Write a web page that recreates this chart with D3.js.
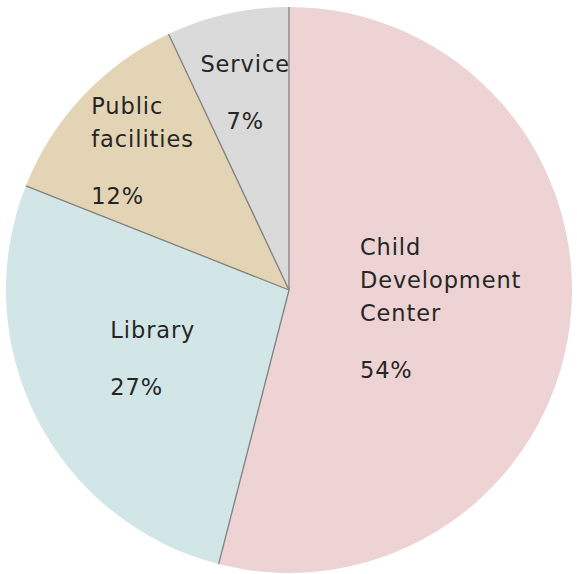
<!DOCTYPE html>
<html>
<head>
<meta charset="utf-8">
<script src="https://cdn.jsdelivr.net/npm/d3@7"></script>
<style>
  body { margin: 0; background: #fff; }
  text { font-family: "DejaVu Sans", sans-serif; fill: #262626; letter-spacing: 0.9px; }
</style>
</head>
<body>
<div id="chart"></div>
<script>
// slices, clockwise from 12 o'clock
const categories = ["Child Development Center", "Library", "Public facilities", "Service"];
const labelLines = [["Child", "Development", "Center"], ["Library"], ["Public", "facilities"], ["Service"]];
const values = [54, 27, 12, 7];
const colors = ["#edd3d3", "#d3e6e7", "#e4d4b6", "#dadada"];

const width = 577, height = 574;
const cx = 289, cy = 290, R = 283;
const fontSize = 22.5, lineH = 33, pctGap = 57;

const svg = d3.select("#chart").append("svg")
    .attr("width", width)
    .attr("height", height);

const g = svg.append("g").attr("transform", `translate(${cx},${cy})`);

const pie = d3.pie().sort(null).value(d => d)(values);
const total = d3.sum(values);

const arc = d3.arc().innerRadius(0).outerRadius(R);

g.selectAll("path.slice")
    .data(pie)
    .join("path")
    .attr("class", "slice")
    .attr("d", arc)
    .attr("fill", (d, i) => colors[i]);

// separator lines only (no outer border)
g.selectAll("line.sep")
    .data(pie)
    .join("line")
    .attr("class", "sep")
    .attr("x1", 0).attr("y1", 0)
    .attr("x2", d => R * Math.sin(d.startAngle))
    .attr("y2", d => -R * Math.cos(d.startAngle))
    .attr("stroke", "#808080")
    .attr("stroke-width", 1.3);

// labels: small slices pushed outward
pie.forEach((d, i) => {
    const frac = d.value / total;
    const r = R * (frac > 0.2 ? 0.54 : 0.71);
    const a = (d.startAngle + d.endAngle) / 2;
    const lx = r * Math.sin(a), ly = -r * Math.cos(a);
    const lines = labelLines[i];
    const span = (lines.length - 1) * lineH + pctGap;
    const firstY = ly - (span + 20) / 2 + 17;

    const t = g.append("g");
    lines.forEach((s, k) => {
        t.append("text")
            .attr("y", firstY + k * lineH)
            .attr("font-size", fontSize)
            .text(s);
    });
    t.append("text")
        .attr("y", firstY + span)
        .attr("font-size", fontSize)
        .text(d.value + "%");

    const centered = lines.length === 1 && frac < 0.1;
    const w = d3.max(t.selectAll("text").nodes(), n => n.getComputedTextLength());
    if (centered) {
        t.selectAll("text").attr("x", lx).attr("text-anchor", "middle");
    } else {
        t.selectAll("text").attr("x", lx - w / 2);
    }
});
</script>
</body>
</html>
